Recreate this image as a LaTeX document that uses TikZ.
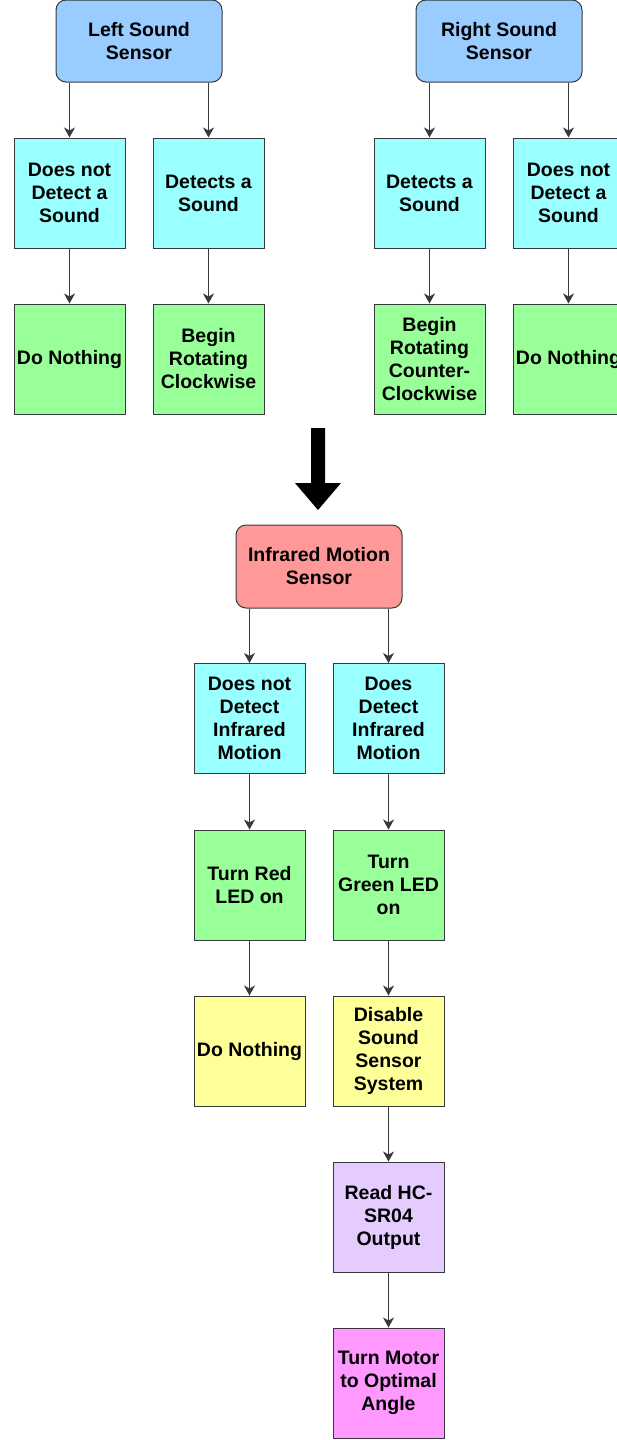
\documentclass[tikz,border=0pt]{standalone}
\usepackage{fontspec}
\setmainfont{Liberation Sans}
\usetikzlibrary{arrows.meta}

\definecolor{sensorblue}{HTML}{99CCFF}
\definecolor{sensorred}{HTML}{FF9999}
\definecolor{stepcyan}{HTML}{99FFFF}
\definecolor{stepgreen}{HTML}{99FF99}
\definecolor{stepyellow}{HTML}{FFFF99}
\definecolor{steplilac}{HTML}{E5CCFF}
\definecolor{steppink}{HTML}{FF99FF}
\definecolor{edgegray}{HTML}{36393D}

\tikzset{
  sensor/.style={draw=edgegray, line width=1pt, rounded corners=10pt,
    minimum width=166pt, minimum height=82pt, inner sep=0pt, align=center,
    font=\bfseries\fontsize{19.5}{23}\selectfont},
  stepbox/.style={draw=edgegray, line width=1pt, minimum width=111pt,
    minimum height=110pt, inner sep=0pt, align=center,
    font=\bfseries\fontsize{19.5}{23}\selectfont},
  arr/.style={draw=edgegray, line width=0.9pt,
    -{Stealth[length=10pt,width=11pt,inset=3pt]}}
}

\begin{document}
\begin{tikzpicture}[x=1pt,y=-1pt]

\useasboundingbox (0,0) rectangle (617,1440);
\clip (0,0) rectangle (617,1440);

% Sound sensors
\node[sensor, fill=sensorblue] (lsens) at (139,41) {Left Sound\\Sensor};
\node[sensor, fill=sensorblue] (rsens) at (499,41) {Right Sound\\Sensor};

% Left sensor branches
\node[stepbox, fill=stepcyan] (lnone) at (69.5,193) {Does not\\Detect a\\Sound};
\node[stepbox, fill=stepcyan] (lhit) at (208.5,193) {Detects a\\Sound};
\node[stepbox, fill=stepgreen] (lidle) at (69.5,359) {Do Nothing};
\node[stepbox, fill=stepgreen] (lturn) at (208.5,359) {Begin\\Rotating\\Clockwise};

% Right sensor branches
\node[stepbox, fill=stepcyan] (rhit) at (429.5,193) {Detects a\\Sound};
\node[stepbox, fill=stepcyan] (rnone) at (568.5,193) {Does not\\Detect a\\Sound};
\node[stepbox, fill=stepgreen] (rturn) at (429.5,359) {Begin\\Rotating\\Counter-\\Clockwise};
\node[stepbox, fill=stepgreen] (ridle) at (568.5,359) {Do Nothing};

\draw[arr] (lsens.south -| lnone.north) -- (lnone.north);
\draw[arr] (lsens.south -| lhit.north) -- (lhit.north);
\draw[arr] (lnone) -- (lidle);
\draw[arr] (lhit) -- (lturn);
\draw[arr] (rsens.south -| rhit.north) -- (rhit.north);
\draw[arr] (rsens.south -| rnone.north) -- (rnone.north);
\draw[arr] (rhit) -- (rturn);
\draw[arr] (rnone) -- (ridle);

% Big arrow
\fill (311,428) -- (325,428) -- (325,483) -- (341,483) -- (318,510)
  -- (295,483) -- (311,483) -- cycle;

% Infrared sensor
\node[sensor, fill=sensorred, minimum height=83pt] (irsens) at (319,566.5) {Infrared Motion\\Sensor};

\node[stepbox, fill=stepcyan] (irnone) at (249.5,718.5) {Does not\\Detect\\Infrared\\Motion};
\node[stepbox, fill=stepcyan] (irhit) at (388.5,718.5) {Does\\Detect\\Infrared\\Motion};
\node[stepbox, fill=stepgreen] (redled) at (249.5,885) {Turn Red\\LED on};
\node[stepbox, fill=stepgreen] (greenled) at (388.5,885) {Turn\\Green LED\\on};
\node[stepbox, fill=stepyellow] (iridle) at (249.5,1051) {Do Nothing};
\node[stepbox, fill=stepyellow] (disable) at (388.5,1051) {Disable\\Sound\\Sensor\\System};
\node[stepbox, fill=steplilac] (sonar) at (388.5,1217) {Read HC-\\SR04\\Output};
\node[stepbox, fill=steppink] (motor) at (388.5,1383) {Turn Motor\\to Optimal\\Angle};

\draw[arr] (irsens.south -| irnone.north) -- (irnone.north);
\draw[arr] (irsens.south -| irhit.north) -- (irhit.north);
\draw[arr] (irnone) -- (redled);
\draw[arr] (redled) -- (iridle);
\draw[arr] (irhit) -- (greenled);
\draw[arr] (greenled) -- (disable);
\draw[arr] (disable) -- (sonar);
\draw[arr] (sonar) -- (motor);

\end{tikzpicture}
\end{document}
